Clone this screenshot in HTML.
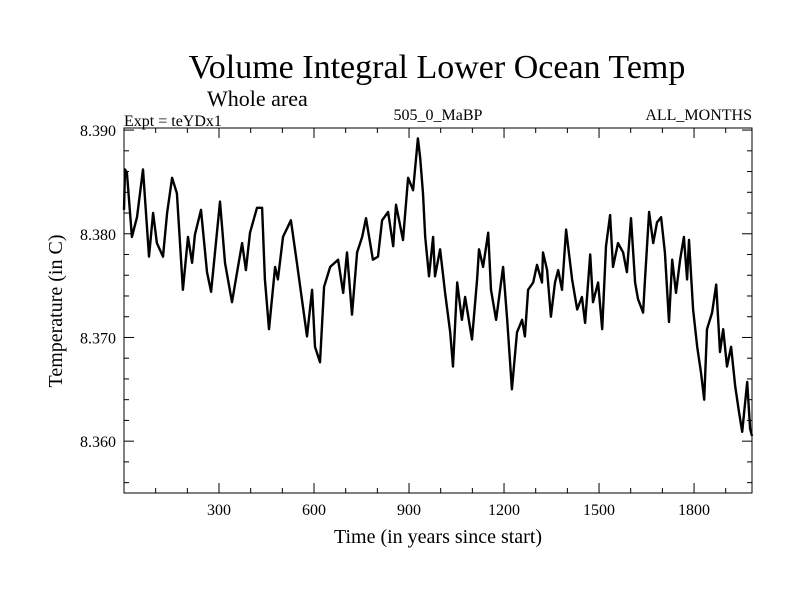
<!DOCTYPE html>
<html><head><meta charset="utf-8"><style>
body{margin:0;background:#fff}
svg text{font-family:"Liberation Serif",serif;fill:#000}
</style></head><body>
<svg id="chart" width="800" height="600">
<text x="437" y="78" font-size="34" text-anchor="middle">Volume Integral Lower Ocean Temp</text>
<text x="207" y="106" font-size="22">Whole area</text>
<text x="124" y="126" font-size="16">Expt = teYDx1</text>
<text x="438" y="120" font-size="16" text-anchor="middle">505_0_MaBP</text>
<text x="752" y="120" font-size="16" text-anchor="end">ALL_MONTHS</text>
<g id="axes"></g>
<path id="series" fill="none" stroke="#000" stroke-width="2.4" stroke-linejoin="round"/>
<rect x="124" y="128" width="628" height="365" fill="none" stroke="#000" stroke-width="1"/>
<text x="438" y="543" font-size="20" text-anchor="middle">Time (in years since start)</text>
<text transform="translate(62,311) rotate(-90)" font-size="20" text-anchor="middle">Temperature (in C)</text>
</svg>
<script>
const years=[0,3,9,25,41,60,79,92,104,123,136,152,167,186,202,215,224,243,262,275,303,319,341,357,373,385,398,420,436,445,458,477,486,502,527,546,565,578,594,603,619,632,651,676,692,704,720,736,752,764,786,802,815,834,850,859,881,897,913,928,935,944,951,963,976,982,998,1014,1030,1039,1052,1067,1077,1099,1115,1121,1134,1150,1159,1175,1197,1210,1225,1241,1257,1266,1276,1292,1304,1320,1323,1336,1348,1361,1371,1383,1396,1415,1431,1446,1456,1472,1481,1497,1510,1522,1535,1544,1560,1576,1588,1601,1614,1623,1639,1645,1658,1671,1683,1696,1708,1721,1731,1743,1756,1768,1778,1784,1797,1810,1822,1832,1841,1857,1870,1882,1892,1904,1917,1930,1942,1952,1968,1977,1983];
const temps=[8.3823,8.3862,8.3859,8.3797,8.3816,8.3862,8.3778,8.3820,8.3791,8.3778,8.3820,8.3854,8.3839,8.3746,8.3797,8.3772,8.3799,8.3823,8.3763,8.3744,8.3831,8.3772,8.3734,8.3763,8.3791,8.3765,8.3801,8.3825,8.3825,8.3756,8.3708,8.3768,8.3756,8.3797,8.3813,8.3772,8.3730,8.3701,8.3746,8.3691,8.3676,8.3749,8.3768,8.3775,8.3743,8.3782,8.3722,8.3782,8.3797,8.3815,8.3775,8.3778,8.3813,8.3821,8.3788,8.3828,8.3794,8.3854,8.3842,8.3892,8.3874,8.3839,8.3797,8.3759,8.3797,8.3759,8.3785,8.3743,8.3705,8.3672,8.3753,8.3717,8.3739,8.3698,8.3756,8.3785,8.3768,8.3801,8.3746,8.3717,8.3768,8.3717,8.3650,8.3705,8.3717,8.3701,8.3746,8.3753,8.3770,8.3753,8.3782,8.3765,8.3720,8.3753,8.3765,8.3746,8.3804,8.3756,8.3727,8.3739,8.3714,8.3780,8.3734,8.3753,8.3708,8.3788,8.3818,8.3768,8.3791,8.3782,8.3763,8.3815,8.3753,8.3737,8.3724,8.3756,8.3821,8.3791,8.3811,8.3816,8.3782,8.3715,8.3775,8.3743,8.3775,8.3797,8.3756,8.3794,8.3727,8.3691,8.3666,8.3640,8.3708,8.3724,8.3751,8.3686,8.3708,8.3672,8.3691,8.3653,8.3628,8.3609,8.3657,8.3612,8.3605];
const xTicks=[300,600,900,1200,1500,1800];
const yTicks=[8.360,8.370,8.380,8.390];
const L=124,R=752,T=128,B=493,X0=0,X1=1983,Y0=8.355,Y1=8.3902;
const xs=v=>L+(v-X0)/(X1-X0)*(R-L);
const ys=v=>B-(v-Y0)/(Y1-Y0)*(B-T);
const NS='http://www.w3.org/2000/svg';
const ax=document.getElementById('axes');
function line(x1,y1,x2,y2,name){const l=document.createElementNS(NS,'line');l.setAttribute('x1',x1);l.setAttribute('y1',y1);l.setAttribute('x2',x2);l.setAttribute('y2',y2);l.setAttribute('stroke','#000');


ax.appendChild(l);}
function txt(x,y,s,anchor,name){const t=document.createElementNS(NS,'text');t.setAttribute('x',x);t.setAttribute('y',y);t.setAttribute('font-size','16');t.setAttribute('text-anchor',anchor);t.textContent=s;


ax.appendChild(t);}
for(let v=100;v<X1;v+=100){const x=xs(v),big=v%300===0?10:5;line(x,B,x,B-big,'x-tick');line(x,T,x,T+big,'x-tick');}
xTicks.forEach(v=>txt(xs(v),515,String(v),'middle','x-tick-label'));
for(let k=0;k<=17;k++){const v=8.356+k*0.002;if(v>Y1)break;const y=ys(v),big=(Math.round(v*1000)%10===0)?10:5;line(L,y,L+big,y,'y-tick');line(R,y,R-big,y,'y-tick');}
yTicks.forEach(v=>txt(116,ys(v)+6,v.toFixed(3),'end','y-tick-label'));
document.getElementById('series').setAttribute('d',years.map((y,i)=>(i?'L':'M')+xs(y).toFixed(1)+','+ys(temps[i]).toFixed(1)).join(''));
</script>
</body></html>
